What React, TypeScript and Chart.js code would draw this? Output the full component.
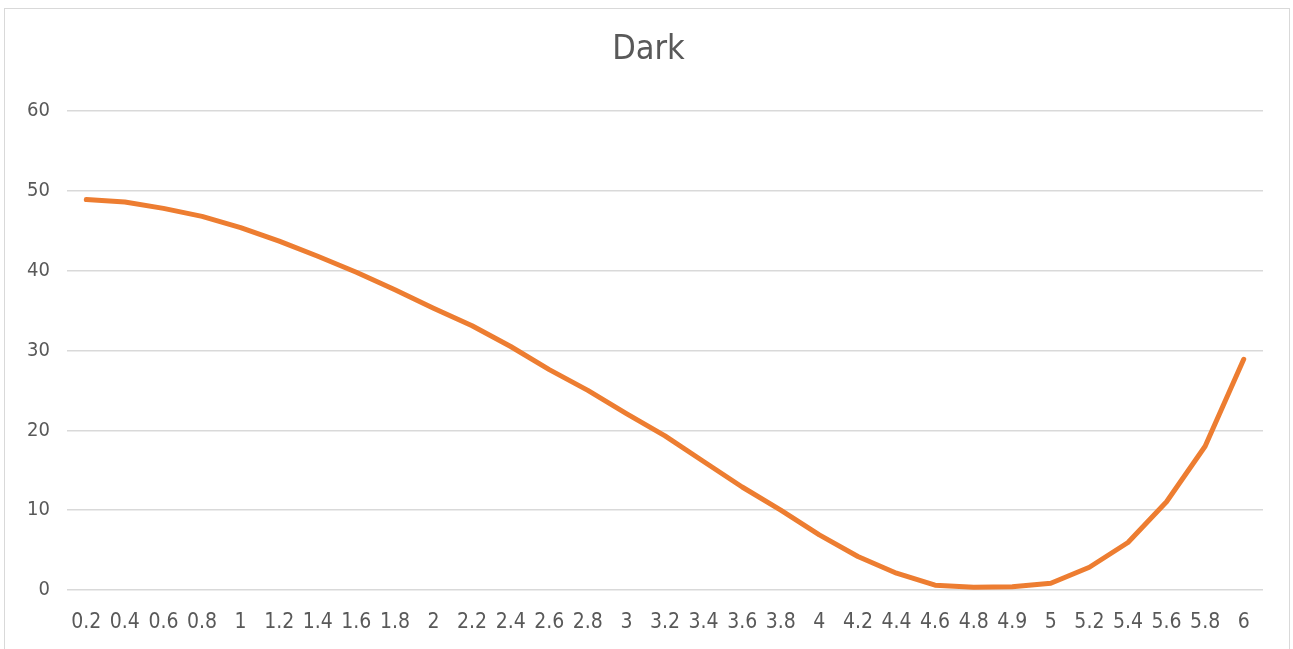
import React, { useEffect, useRef } from "react";
import { Chart, registerables } from "chart.js";

Chart.register(...registerables);

const categories = [
  "0.2", "0.4", "0.6", "0.8", "1", "1.2", "1.4", "1.6", "1.8", "2",
  "2.2", "2.4", "2.6", "2.8", "3", "3.2", "3.4", "3.6", "3.8", "4",
  "4.2", "4.4", "4.6", "4.8", "4.9", "5", "5.2", "5.4", "5.6", "5.8", "6",
];

const darkValues = [
  48.9, 48.6, 47.8, 46.8, 45.4, 43.7, 41.8, 39.8, 37.6, 35.3,
  33.1, 30.5, 27.6, 25.0, 22.1, 19.3, 16.1, 12.9, 10.0, 6.9,
  4.2, 2.1, 0.6, 0.33, 0.42, 0.85, 2.85, 5.95, 11.05, 18.0, 28.9,
];

const yTicks = [0, 10, 20, 30, 40, 50, 60];

const TITLE = "Dark";
const FONT = '"Liberation Sans Narrow", "DejaVu Sans Condensed", "Liberation Sans", sans-serif';
const TEXT = "#595959";

const titlePlugin = {
  id: "centeredTitle",
  afterDraw(chart: any) {
    const ctx = chart.ctx;
    ctx.save();
    ctx.fillStyle = TEXT;
    ctx.font = `normal 34px ${FONT}`;
    ctx.textAlign = "center";
    ctx.textBaseline = "middle";
    ctx.fillText(TITLE, chart.width / 2 + 2, 50);
    ctx.restore();
  },
};

export default function App() {
  const ref = useRef<HTMLCanvasElement | null>(null);

  useEffect(() => {
    if (!ref.current) return;
    const chart = new Chart(ref.current, {
      type: "line",
      data: {
        labels: categories,
        datasets: [
          {
            label: TITLE,
            data: darkValues,
            borderColor: "#ED7D31",
            backgroundColor: "#ED7D31",
            borderWidth: 5,
            pointRadius: 0,
            tension: 0,
            borderCapStyle: "round",
            borderJoinStyle: "round",
          },
        ],
      },
      plugins: [titlePlugin],
      options: {
        animation: false,
        responsive: false,
        maintainAspectRatio: false,
        layout: { padding: { left: 0, right: 30, top: 111, bottom: 0 } },
        plugins: {
          legend: { display: false },
          tooltip: { enabled: false },
          title: { display: false },
        },
        scales: {
          x: {
            type: "category",
            offset: true,
            grid: { display: false, drawTicks: false },
            border: { display: false },
            ticks: {
              color: TEXT,
              font: { family: FONT, size: 21 },
              autoSkip: false,
              maxRotation: 0,
              minRotation: 0,
              padding: 20,
            },
            afterFit: (s: any) => {
              s.height = 59;
            },
          },
          y: {
            min: 0,
            max: 60,
            afterBuildTicks: (s: any) => {
              s.ticks = yTicks.map((v) => ({ value: v }));
            },
            grid: { color: "#d9d9d9", lineWidth: 1.5, drawTicks: false },
            border: { display: false },
            ticks: {
              color: TEXT,
              font: { family: FONT, size: 20 },
              padding: 17,
            },
            afterFit: (s: any) => {
              s.width = 67;
            },
          },
        },
      },
    });
    return () => chart.destroy();
  }, []);

  return (
    <div style={{ position: "fixed", left: 0, top: 0, width: 1293, height: 649, background: "#fff", overflow: "hidden" }}>
      <div
        style={{
          position: "absolute",
          left: 4,
          top: 8,
          width: 1286,
          height: 700,
          border: "1px solid #d9d9d9",
          boxSizing: "border-box",
        }}
      />
      <canvas ref={ref} width={1293} height={649} style={{ position: "absolute", left: 0, top: 0 }} />
    </div>
  );
}
